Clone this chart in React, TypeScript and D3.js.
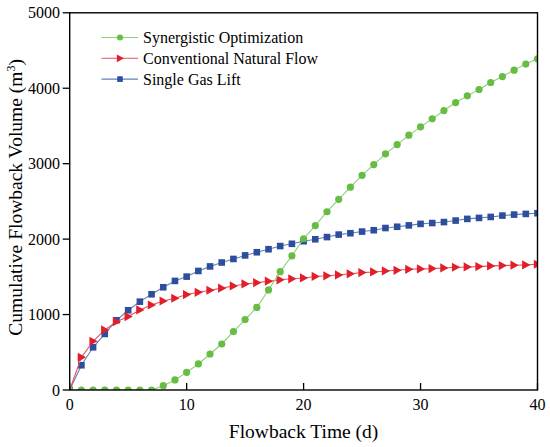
import React from "react";
import * as d3 from "d3";

const days = [0,1,2,3,4,5,6,7,8,9,10,11,12,13,14,15,16,17,18,19,20,21,22,23,24,25,26,27,28,29,30,31,32,33,34,35,36,37,38,39,40];

const synergistic = [0,0,0,0,0,0,0,0,57,133,234,345,477,610,774,933,1095,1326,1569,1779,2005,2179,2363,2528,2688,2845,2988,3130,3253,3378,3488,3594,3704,3810,3899,3983,4076,4155,4240,4320,4390];
const natural = [0,433,646,796,906,973,1061,1127,1180,1216,1265,1295,1322,1350,1379,1406,1423,1442,1461,1474,1485,1505,1514,1525,1540,1556,1565,1578,1587,1600,1605,1609,1618,1627,1631,1636,1645,1649,1654,1658,1667];
const gasLift = [0,328,566,743,924,1057,1171,1269,1362,1446,1503,1578,1638,1690,1737,1784,1826,1866,1908,1938,1972,1998,2027,2060,2078,2100,2118,2147,2164,2182,2202,2213,2226,2246,2268,2281,2294,2312,2325,2334,2343];

const xTicks = [0, 10, 20, 30, 40];
const yTicks = [0, 1000, 2000, 3000, 4000, 5000];
const seriesNames = ["Synergistic Optimization", "Conventional Natural Flow", "Single Gas Lift"];

const W = 550, H = 447;
const M = { left: 69.7, right: 537.5, top: 12.8, bottom: 390 };
const FONT = "'Liberation Serif', 'Times New Roman', serif";

const STYLES = [
  { key: "green", marker: "#67bd43", line: "#8ccf74", shape: "circle" },
  { key: "red", marker: "#e11f2b", line: "#e8505c", shape: "triangle" },
  { key: "blue", marker: "#2d4e9b", line: "#6580b6", shape: "square" },
];

function Marker({ shape, x, y, color, s = 1 }: { shape: string; x: number; y: number; color: string; s?: number }) {
  if (shape === "circle") return <circle cx={x} cy={y} r={3.6 * s} fill={color} />;
  if (shape === "square") return <rect x={x - 3.3 * s} y={y - 3.3 * s} width={6.6 * s} height={6.6 * s} fill={color} />;
  const a = 4.6 * s;
  return <path d={`M${x + a},${y} L${x - a * 0.8},${y - a} L${x - a * 0.8},${y + a} Z`} fill={color} />;
}

export default function App() {
  const x = d3.scaleLinear().domain([0, 40]).range([M.left, M.right]);
  const y = d3.scaleLinear().domain([0, 5000]).range([M.bottom, M.top]);
  const line = d3.line<number>().x((_, i) => x(days[i])).y((d) => y(d));

  const data = [gasLift, natural, synergistic];
  const dataStyles = [STYLES[2], STYLES[1], STYLES[0]];

  return (
    <svg width={W} height={H} style={{ position: "absolute", left: 0, top: 0, background: "#fff" }} fontFamily={FONT}>
      <defs>
        <clipPath id="plotclip">
          <rect x={M.left} y={M.top - 6} width={M.right - M.left} height={M.bottom - M.top + 6} />
        </clipPath>
      </defs>
      <g clipPath="url(#plotclip)">
        {data.map((vals, si) => (
          <g key={si}>
            <path d={line(vals) || ""} fill="none" stroke={dataStyles[si].line} strokeWidth={1.1} />
            {vals.map((v, i) => (
              <Marker key={i} shape={dataStyles[si].shape} x={x(days[i])} y={y(v)} color={dataStyles[si].marker} />
            ))}
          </g>
        ))}
      </g>
      {/* frame */}
      <rect x={M.left} y={M.top} width={M.right - M.left} height={M.bottom - M.top} fill="none" stroke="#000" strokeWidth={1.4} />
      {/* x ticks (inward) */}
      {xTicks.map((t) => (
        <g key={t}>
          <line x1={x(t)} x2={x(t)} y1={M.bottom} y2={M.bottom - 7} stroke="#000" strokeWidth={1.3} />
          <text x={x(t)} y={410} textAnchor="middle" fontSize={16} fill="#000">{t}</text>
        </g>
      ))}
      {/* y ticks (outward) */}
      {yTicks.map((t) => (
        <g key={t}>
          <line x1={M.left} x2={M.left - 7} y1={y(t)} y2={y(t)} stroke="#000" strokeWidth={1.3} />
          <text x={60} y={y(t)} dy="0.35em" textAnchor="end" fontSize={16} fill="#000">{t}</text>
        </g>
      ))}
      {/* axis titles */}
      <text x={(M.left + M.right) / 2} y={438} textAnchor="middle" fontSize={19.5} fill="#000">Flowback Time (d)</text>
      <text transform={`translate(22,${(M.top + M.bottom) / 2 - 4}) rotate(-90)`} textAnchor="middle" fontSize={19.5} fill="#000">
        Cumulative Flowback Volume (m<tspan baselineShift="super" fontSize={12}>3</tspan>)
      </text>
      {/* legend */}
      {seriesNames.map((name, i) => {
        const ly = 37.5 + i * 20.8;
        const st = STYLES[i];
        return (
          <g key={name}>
            <line x1={101.5} x2={138} y1={ly} y2={ly} stroke={st.line} strokeWidth={1.1} />
            <Marker shape={st.shape} x={120} y={ly} color={st.marker} s={0.85} />
            <text x={143} y={ly} dy="0.35em" fontSize={16} fill="#000">{name}</text>
          </g>
        );
      })}
    </svg>
  );
}
